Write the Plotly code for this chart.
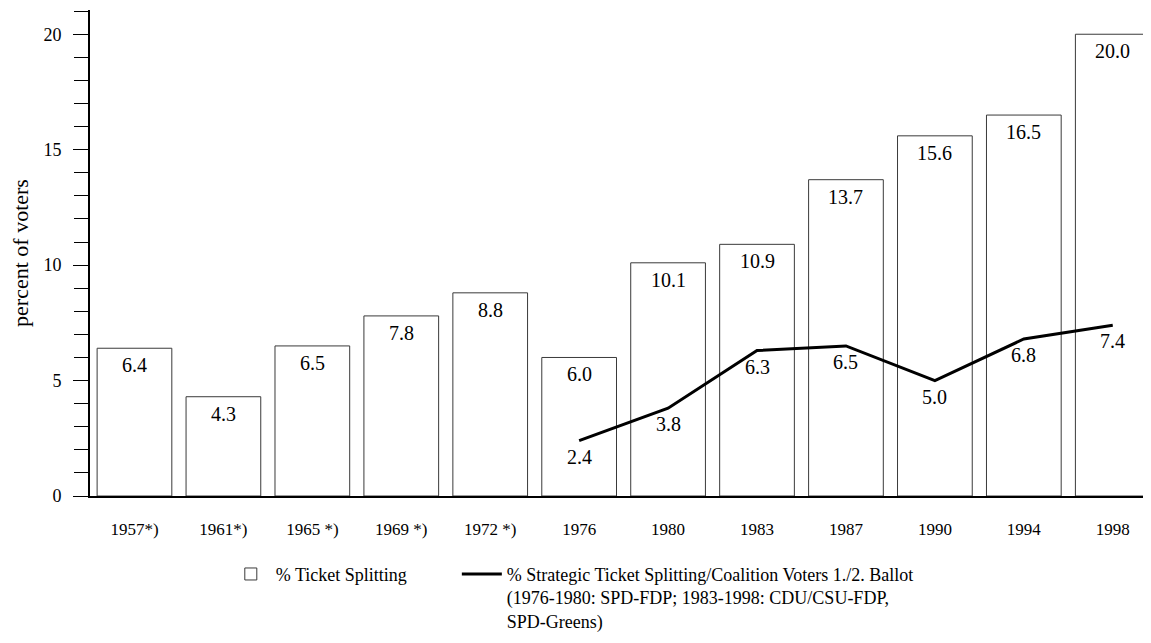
import plotly.graph_objects as go

years = ["1957*)", "1961*)", "1965 *)", "1969 *)", "1972 *)", "1976", "1980", "1983", "1987", "1990", "1994", "1998"]
ticket_splitting = [6.4, 4.3, 6.5, 7.8, 8.8, 6.0, 10.1, 10.9, 13.7, 15.6, 16.5, 20.0]
strategic_years = ["1976", "1980", "1983", "1987", "1990", "1994", "1998"]
strategic = [2.4, 3.8, 6.3, 6.5, 5.0, 6.8, 7.4]

FONT = "Liberation Serif, Times New Roman, serif"
NBSP = "\u00a0"

fig = go.Figure()
fig.add_trace(go.Bar(
    x=years, y=ticket_splitting, name="% Ticket Splitting" + NBSP * 10,
    marker=dict(color="white", line=dict(color="#3a3a3a", width=1)),
    hoverinfo="y",
))
fig.add_trace(go.Scatter(
    x=strategic_years, y=strategic, mode="lines",
    name="% Strategic Ticket Splitting/Coalition Voters 1./2. Ballot<br>(1976-1980: SPD-FDP; 1983-1998: CDU/CSU-FDP,<br>SPD-Greens)",
    line=dict(color="black", width=3),
))

annotations = []
for x, v in zip(years, ticket_splitting):
    annotations.append(dict(x=years.index(x), y=v, text=f"{v:.1f}", showarrow=False,
                            xref="x", yref="y", yanchor="middle", yshift=-17,
                            font=dict(family=FONT, size=20, color="black")))
for x, v in zip(strategic_years, strategic):
    annotations.append(dict(x=years.index(x), y=v, text=f"{v:.1f}", showarrow=False,
                            xref="x", yref="y", yanchor="middle", yshift=-16,
                            font=dict(family=FONT, size=20, color="black")))

# the page body has an 8px default margin, so the figure is sized to fit the window
fig.update_layout(
    width=1143, height=635,
    margin=dict(l=82, r=0, t=2, b=147, autoexpand=False),
    plot_bgcolor="white", paper_bgcolor="white",
    font=dict(family=FONT, size=18, color="black"),
    bargap=0.16,
    annotations=annotations,
    showlegend=True,
    legend=dict(orientation="h", x=0.128, xanchor="left", y=-0.123, yanchor="top",
                valign="top", font=dict(family=FONT, size=18, color="black"),
                itemwidth=40, traceorder="normal"),
    xaxis=dict(type="category", range=[-0.5, 11.43], showline=True, linecolor="black", linewidth=2,
               ticks="", showgrid=False, zeroline=False, ticklabelstandoff=17,
               tickfont=dict(family=FONT, size=17, color="black")),
    yaxis=dict(range=[0, 21.05], showline=True, linecolor="black", linewidth=2,
               ticks="outside", ticklen=15, tickwidth=1.3, tickcolor="black",
               tickvals=[0, 5, 10, 15, 20], showgrid=False, zeroline=False,
               ticklabelstandoff=8,
               minor=dict(dtick=1, ticks="outside", ticklen=14, tickwidth=1.3, tickcolor="black"),
               tickfont=dict(family=FONT, size=18, color="black"),
               title=dict(text="percent of voters", standoff=12,
                          font=dict(family=FONT, size=22, color="black"))),
)

fig.write_html("out.html")
